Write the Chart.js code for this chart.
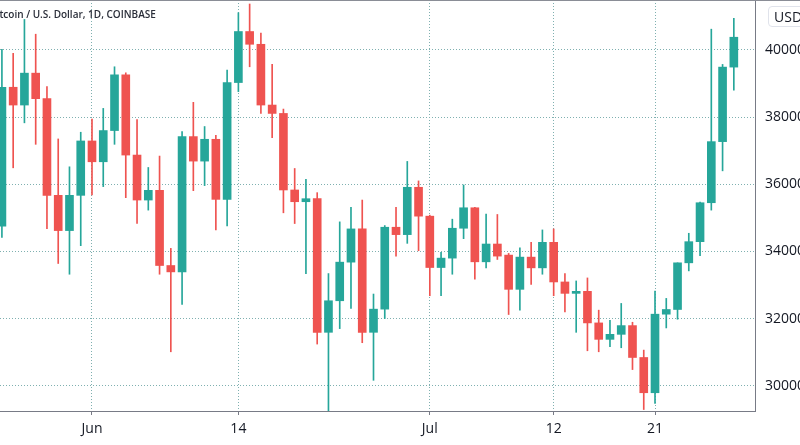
<!DOCTYPE html>
<html>
<head>
<meta charset="utf-8">
<title>BTC / USD, 1D</title>
<script src="https://cdn.jsdelivr.net/npm/chart.js@4.4.1/dist/chart.umd.min.js"></script>
<style>
    body { margin: 0; background: #ffffff; }
    #wrap { position: relative; width: 800px; height: 445px; overflow: hidden; }
    #frame-top { position: absolute; left: 0; top: 0; width: 800px; height: 1px; background: #8a8d96; }
    #symbol {
        position: absolute; left: -10px; top: 7px; white-space: nowrap;
        font: 600 10px 'Open Sans', sans-serif; color: #2a2e39;
    }
    #currency {
        position: absolute; left: 768px; top: 6px; padding: 0 5px;
        border: 1px solid #e0e3eb; border-radius: 4px; background: #ffffff;
        font: 14px 'Open Sans', sans-serif; color: #131722;
    }
</style>
</head>
<body>
<div id="wrap">
    <canvas id="btc-chart" width="800" height="445"></canvas>
    <div id="frame-top"></div>
    <div id="symbol">Bitcoin / U.S. Dollar, 1D, COINBASE</div>
    <div id="currency">USD</div>
</div>
<script>
const dates = [
    'May 24', 'May 25', 'May 26', 'May 27', 'May 28', 'May 29', 'May 30', 'May 31',
    'Jun 1', 'Jun 2', 'Jun 3', 'Jun 4', 'Jun 5', 'Jun 6', 'Jun 7', 'Jun 8', 'Jun 9', 'Jun 10',
    'Jun 11', 'Jun 12', 'Jun 13', 'Jun 14', 'Jun 15', 'Jun 16', 'Jun 17', 'Jun 18', 'Jun 19', 'Jun 20',
    'Jun 21', 'Jun 22', 'Jun 23', 'Jun 24', 'Jun 25', 'Jun 26', 'Jun 27', 'Jun 28', 'Jun 29', 'Jun 30',
    'Jul 1', 'Jul 2', 'Jul 3', 'Jul 4', 'Jul 5', 'Jul 6', 'Jul 7', 'Jul 8', 'Jul 9', 'Jul 10',
    'Jul 11', 'Jul 12', 'Jul 13', 'Jul 14', 'Jul 15', 'Jul 16', 'Jul 17', 'Jul 18', 'Jul 19', 'Jul 20',
    'Jul 21', 'Jul 22', 'Jul 23', 'Jul 24', 'Jul 25', 'Jul 26', 'Jul 27', 'Jul 28'
];

const open = [
    34750, 38890, 38360, 39310, 38550, 35670, 34620, 35670,
    37290, 36670, 37600, 39260, 36870, 35530, 35820, 33580, 33390, 37420,
    36690, 37340, 35550, 39030, 40550, 40170, 38360, 38110, 35830, 35480,
    35570, 31590, 32530, 33680, 34670, 31590, 32280, 34720, 34500, 35910,
    35050, 33520, 33800, 34690, 35300, 33690, 34220, 33890, 32870, 33830,
    33510, 34270, 33090, 32750, 32810, 31870, 31380, 31530, 31790, 30840,
    29790, 32130, 32270, 33660, 34290, 35450, 37270, 39490
];

const high = [
    40020, 39900, 40910, 40470, 38910, 37350, 36520, 37550,
    37940, 38260, 39500, 39320, 37930, 36500, 36840, 34090, 37570, 38440,
    37720, 37460, 39400, 41110, 41370, 40500, 39570, 38240, 36470, 36150,
    35750, 33340, 34880, 35310, 35530, 32730, 34770, 35310, 36680, 36100,
    35080, 33970, 34960, 35980, 35310, 35110, 35100, 33940, 34110, 34270,
    34640, 34670, 33340, 33120, 33210, 32250, 31950, 32450, 31890, 31060,
    32820, 32600, 33660, 34540, 35470, 40620, 39570, 40940
];

const low = [
    34420, 36490, 37830, 37190, 34680, 33640, 33320, 34170,
    35680, 35930, 37190, 35600, 34830, 35230, 33320, 31010, 32420, 35810,
    35960, 34640, 34760, 38760, 39500, 38110, 37390, 35150, 34830, 33340,
    31240, 28800, 31700, 32300, 31280, 30160, 32000, 33860, 34240, 34020,
    32680, 32680, 33320, 34380, 33170, 33510, 33760, 32120, 32250, 33020,
    33320, 32680, 32200, 31590, 31040, 31010, 31160, 31130, 30480, 29290,
    29470, 31720, 31980, 33420, 33870, 35230, 36400, 38800
];

const close = [
    38890, 38360, 39310, 38550, 35670, 34620, 35670, 37290,
    36670, 37600, 39260, 36870, 35530, 35820, 33580, 33390, 37420, 36690,
    37340, 35550, 39030, 40550, 40170, 38360, 38110, 35830, 35480, 35570,
    31590, 32530, 33680, 34670, 31590, 32280, 34720, 34500, 35910, 35050,
    33520, 33800, 34690, 35300, 33690, 34220, 33860, 32870, 33830, 33510,
    34270, 33090, 32750, 32810, 31870, 31380, 31530, 31790, 30840, 29790,
    32130, 32270, 33660, 34290, 35450, 37270, 39490, 40380
];

const tickDates = ['Jun 1', 'Jun 14', 'Jul 1', 'Jul 12', 'Jul 21'];
const tickLabels = ['Jun', '14', 'Jul', '12', '21'];
const priceTicks = [30000, 32000, 34000, 36000, 38000, 40000];

const upColor = '#26a69a';
const downColor = '#ef5350';
const gridColor = '#7fb0b0';
const axisColor = '#787b86';
const textColor = '#131722';
const font = { family: "'Open Sans', sans-serif", size: 14 };

const candleColors = open.map((o, i) => close[i] >= o ? upColor : downColor);
const bodies = dates.map((d, i) => ({ x: i, y: [open[i], close[i]] }));
const wicks = dates.map((d, i) => ({ x: i, y: [low[i], high[i]] }));

const ctx = document.getElementById('btc-chart').getContext('2d');
new Chart(ctx, {
    type: 'bar',
    data: {
        datasets: [{
            label: 'Body',
            data: bodies,
            backgroundColor: candleColors,
            barThickness: 8,
            grouped: false
        }, {
            label: 'Wick',
            data: wicks,
            backgroundColor: candleColors,
            barThickness: 1,
            grouped: false
        }]
    },
    options: {
        responsive: false,
        animation: false,
        layout: { padding: 0 },
        plugins: {
            legend: { display: false },
            tooltip: {
                callbacks: {
                    title: items => dates[items[0].dataIndex],
                    label: function(context) {
                        const i = context.dataIndex;
                        return 'O ' + open[i] + '  H ' + high[i] + '  L ' + low[i] + '  C ' + close[i];
                    }
                }
            }
        },
        scales: {
            x: {
                type: 'linear',
                min: -0.17,
                max: 66.88,
                offset: false,
                afterBuildTicks: axis => {
                    axis.ticks = tickDates.map(d => ({ value: dates.indexOf(d) }));
                },
                afterFit: axis => { axis.height = 34; },
                border: { display: true, color: axisColor, dash: [1, 2] },
                grid: {
                    offset: false,
                    color: gridColor,
                    tickColor: axisColor,
                    tickLength: 4,
                    tickBorderDash: []
                },
                ticks: {
                    autoSkip: false,
                    maxRotation: 0,
                    padding: 6,
                    color: textColor,
                    font: font,
                    callback: (value, index) => tickLabels[index]
                }
            },
            y: {
                position: 'right',
                min: 29246,
                max: 41489,
                afterBuildTicks: axis => {
                    axis.ticks = priceTicks.map(v => ({ value: v }));
                },
                afterFit: axis => {
                    axis.width = 45;
                    axis.paddingTop = 0;
                    axis.paddingBottom = 0;
                },
                border: { display: true, color: axisColor, dash: [1, 2] },
                grid: { color: gridColor, drawTicks: false },
                ticks: {
                    padding: 10,
                    color: textColor,
                    font: font,
                    callback: value => String(value)
                }
            }
        }
    }
});
</script>
</body>
</html>
